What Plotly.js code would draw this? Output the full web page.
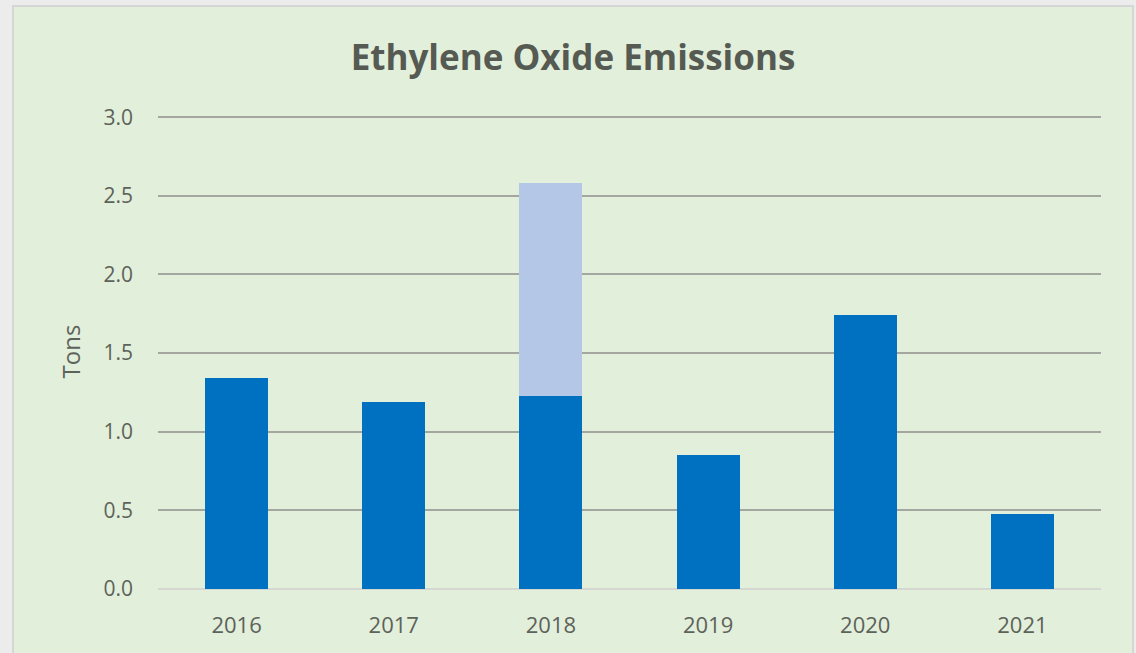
<!DOCTYPE html>
<html>
<head>
<meta charset="utf-8">
<script src="https://cdn.plot.ly/plotly-3.0.1.min.js"></script>
<style>
  html, body { margin: 0; padding: 0; background: #ececec; width: 1136px; height: 653px; overflow: hidden; }
  #chart { position: absolute; left: 12px; top: 5px; width: 1118px; height: 648px; border: 2px solid #d6d6d6; border-bottom: none; }
</style>
</head>
<body>
<div id="chart"></div>
<script>
const years = ['2016', '2017', '2018', '2019', '2020', '2021'];
const baseTons = [1.34, 1.19, 1.23, 0.85, 1.74, 0.48];
const extraTons = [0, 0, 1.35, 0, 0, 0];
const yTicks = [0, 0.5, 1.0, 1.5, 2.0, 2.5, 3.0];
const yTickLabels = ['0.0', '0.5', '1.0', '1.5', '2.0', '2.5', '3.0'];

const fontFam = '"Open Sans", "Noto Sans", sans-serif';
const textCol = '#5d625a';

const data = [
  { type: 'bar', x: years, y: baseTons, marker: { color: '#0070C0' }, hoverinfo: 'x+y' },
  { type: 'bar', x: years, y: extraTons, marker: { color: '#B4C7E7' }, hoverinfo: 'x+y' }
];

const layout = {
  width: 1118, height: 648,
  margin: { l: 144, r: 31, t: 107, b: 66 },
  paper_bgcolor: '#E2EFDA',
  plot_bgcolor: '#E2EFDA',
  barmode: 'stack',
  bargap: 0.6,
  showlegend: false,
  title: { text: '<b>Ethylene Oxide Emissions</b>', x: 0.5, xanchor: 'center', y: 0.921, yanchor: 'middle',
           font: { family: fontFam, size: 35, color: '#555a53' } },
  xaxis: { tickfont: { family: fontFam, size: 22, color: textCol }, showgrid: false, zeroline: false,
           showline: false, ticks: '', ticklabelstandoff: 21 },
  yaxis: { range: [0, 3.02], tickvals: yTicks, ticktext: yTickLabels,
           tickfont: { family: fontFam, size: 21, color: textCol },
           showgrid: true, gridcolor: '#a4a6a0', gridwidth: 2,
           zeroline: true, zerolinecolor: '#d5d8d0', zerolinewidth: 2,
           ticks: '', ticklabelstandoff: 24,
           title: { text: 'Tons', font: { family: fontFam, size: 24, color: textCol }, standoff: 16 } },
  font: { family: fontFam }
};

Plotly.newPlot('chart', data, layout, { displayModeBar: false, staticPlot: true });
</script>
</body>
</html>
